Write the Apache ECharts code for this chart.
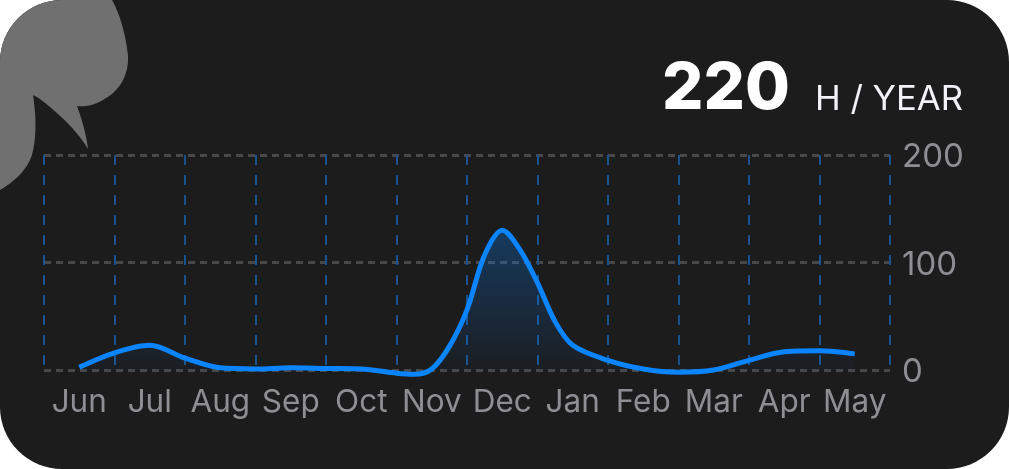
<!DOCTYPE html>
<html>
<head>
<meta charset="utf-8">
<style>
html,body{margin:0;padding:0;background:#fff;width:1009px;height:469px;overflow:hidden}
#card{position:absolute;left:0;top:0;width:1009px;height:469px;background:#1c1c1d;border-radius:62px;overflow:hidden}
#main{width:1009px;height:469px}
</style>
<script src="https://cdn.jsdelivr.net/npm/echarts@6/dist/echarts.min.js"></script>
</head>
<body>
<div id="card"><div id="main"></div></div>
<script>
const categories = ['Jun','Jul','Aug','Sep','Oct','Nov','Dec','Jan','Feb','Mar','Apr','May'];
const monthPositions = [0.5,1,1.5,2,2.5,3,3.5,4,4.5,5,5.25,5.5,5.75,6,6.25,6.5,6.75,7,7.25,7.5,8,8.5,9,9.5,10,10.5,11,11.5];
const hours = [2.5,16,23,11,2,1,2,1.5,1,-3,-4,1,22,56,107,130,112,81,45,23,9,1,-2,0,9,17,18,15];
const yTicks = {min:0,max:200,interval:100};
const totalValue = '220';
const unitLabel = 'H / YEAR';
const FONT = 'Inter, "Noto Sans", sans-serif';
// decorative background blob, flattened from cubic segments
const blobStart = [112,0];
const blobSegments = [
  [120,14,126,36,128,56],[129,74,120,90,106,98],[96,105,86,107,77,106],
  [82,120,86,133,88,149],[78,132,62,117,50,107],[44,102,38,97,33,95],
  [36,115,37,135,32,155],[27,170,14,182,0,190]
];
function flattenBlob(){
  const pts=[[0,0],blobStart];
  let p=blobStart;
  blobSegments.forEach(s=>{
    for(let i=1;i<=16;i++){
      const t=i/16,u=1-t;
      pts.push([u*u*u*p[0]+3*u*u*t*s[0]+3*u*t*t*s[2]+t*t*t*s[4],
                u*u*u*p[1]+3*u*u*t*s[1]+3*u*t*t*s[3]+t*t*t*s[5]]);
    }
    p=[s[4],s[5]];
  });
  return pts;
}
const chart = echarts.init(document.getElementById('main'), null, {renderer:'canvas'});
chart.setOption({
  animation:false,
  backgroundColor:'transparent',
  grid:{left:44,right:119,top:155,bottom:99,containLabel:false},
  xAxis:[
    {type:'category',data:categories,boundaryGap:true,
     axisLine:{show:false},axisTick:{show:false},splitLine:{show:false},
     axisLabel:{color:'#8e8e93',fontFamily:FONT,fontSize:31.5,margin:17,interval:0}},
    {type:'value',min:0,max:12,interval:1,position:'bottom',
     axisLine:{show:false},axisTick:{show:false},axisLabel:{show:false},
     splitLine:{show:true,lineStyle:{color:'#1a5490',width:2,type:[10,10]}}}
  ],
  yAxis:{type:'value',position:'right',min:yTicks.min,max:yTicks.max,interval:yTicks.interval,
     axisLine:{show:false},axisTick:{show:false},
     axisLabel:{margin:12,align:'left',verticalAlign:'middle',formatter:'{v|{value}}',
       rich:{v:{color:'#8e8e93',fontFamily:FONT,fontSize:33,padding:[5,0,0,0]}}},
     splitLine:{show:true,lineStyle:{color:'#48484a',width:3,type:[7,5]}}},
  series:[{
    type:'line',xAxisIndex:1,smooth:0.33,symbol:'none',clip:false,
    data:monthPositions.map((m,i)=>[m,hours[i]]),
    lineStyle:{color:'#0a84ff',width:5,cap:'butt'},
    areaStyle:{origin:'start',color:{type:'linear',x:0,y:0,x2:0,y2:1,colorStops:[
      {offset:0,color:'rgba(10,132,255,0.42)'},{offset:1,color:'rgba(10,132,255,0.02)'}]}},
    z:5
  }],
  graphic:[
    {type:'polygon',silent:true,z:-1,
     shape:{points:flattenBlob()},
     style:{fill:'#707070'}},
    {type:'text',z:10,x:662,y:57,
     style:{text:totalValue,fill:'#ffffff',font:'800 65px '+FONT}},
    {type:'text',z:10,x:815,y:82,
     style:{text:unitLabel,fill:'#f2f2f7',font:'400 34.6px '+FONT}}
  ]
});
</script>
</body>
</html>
